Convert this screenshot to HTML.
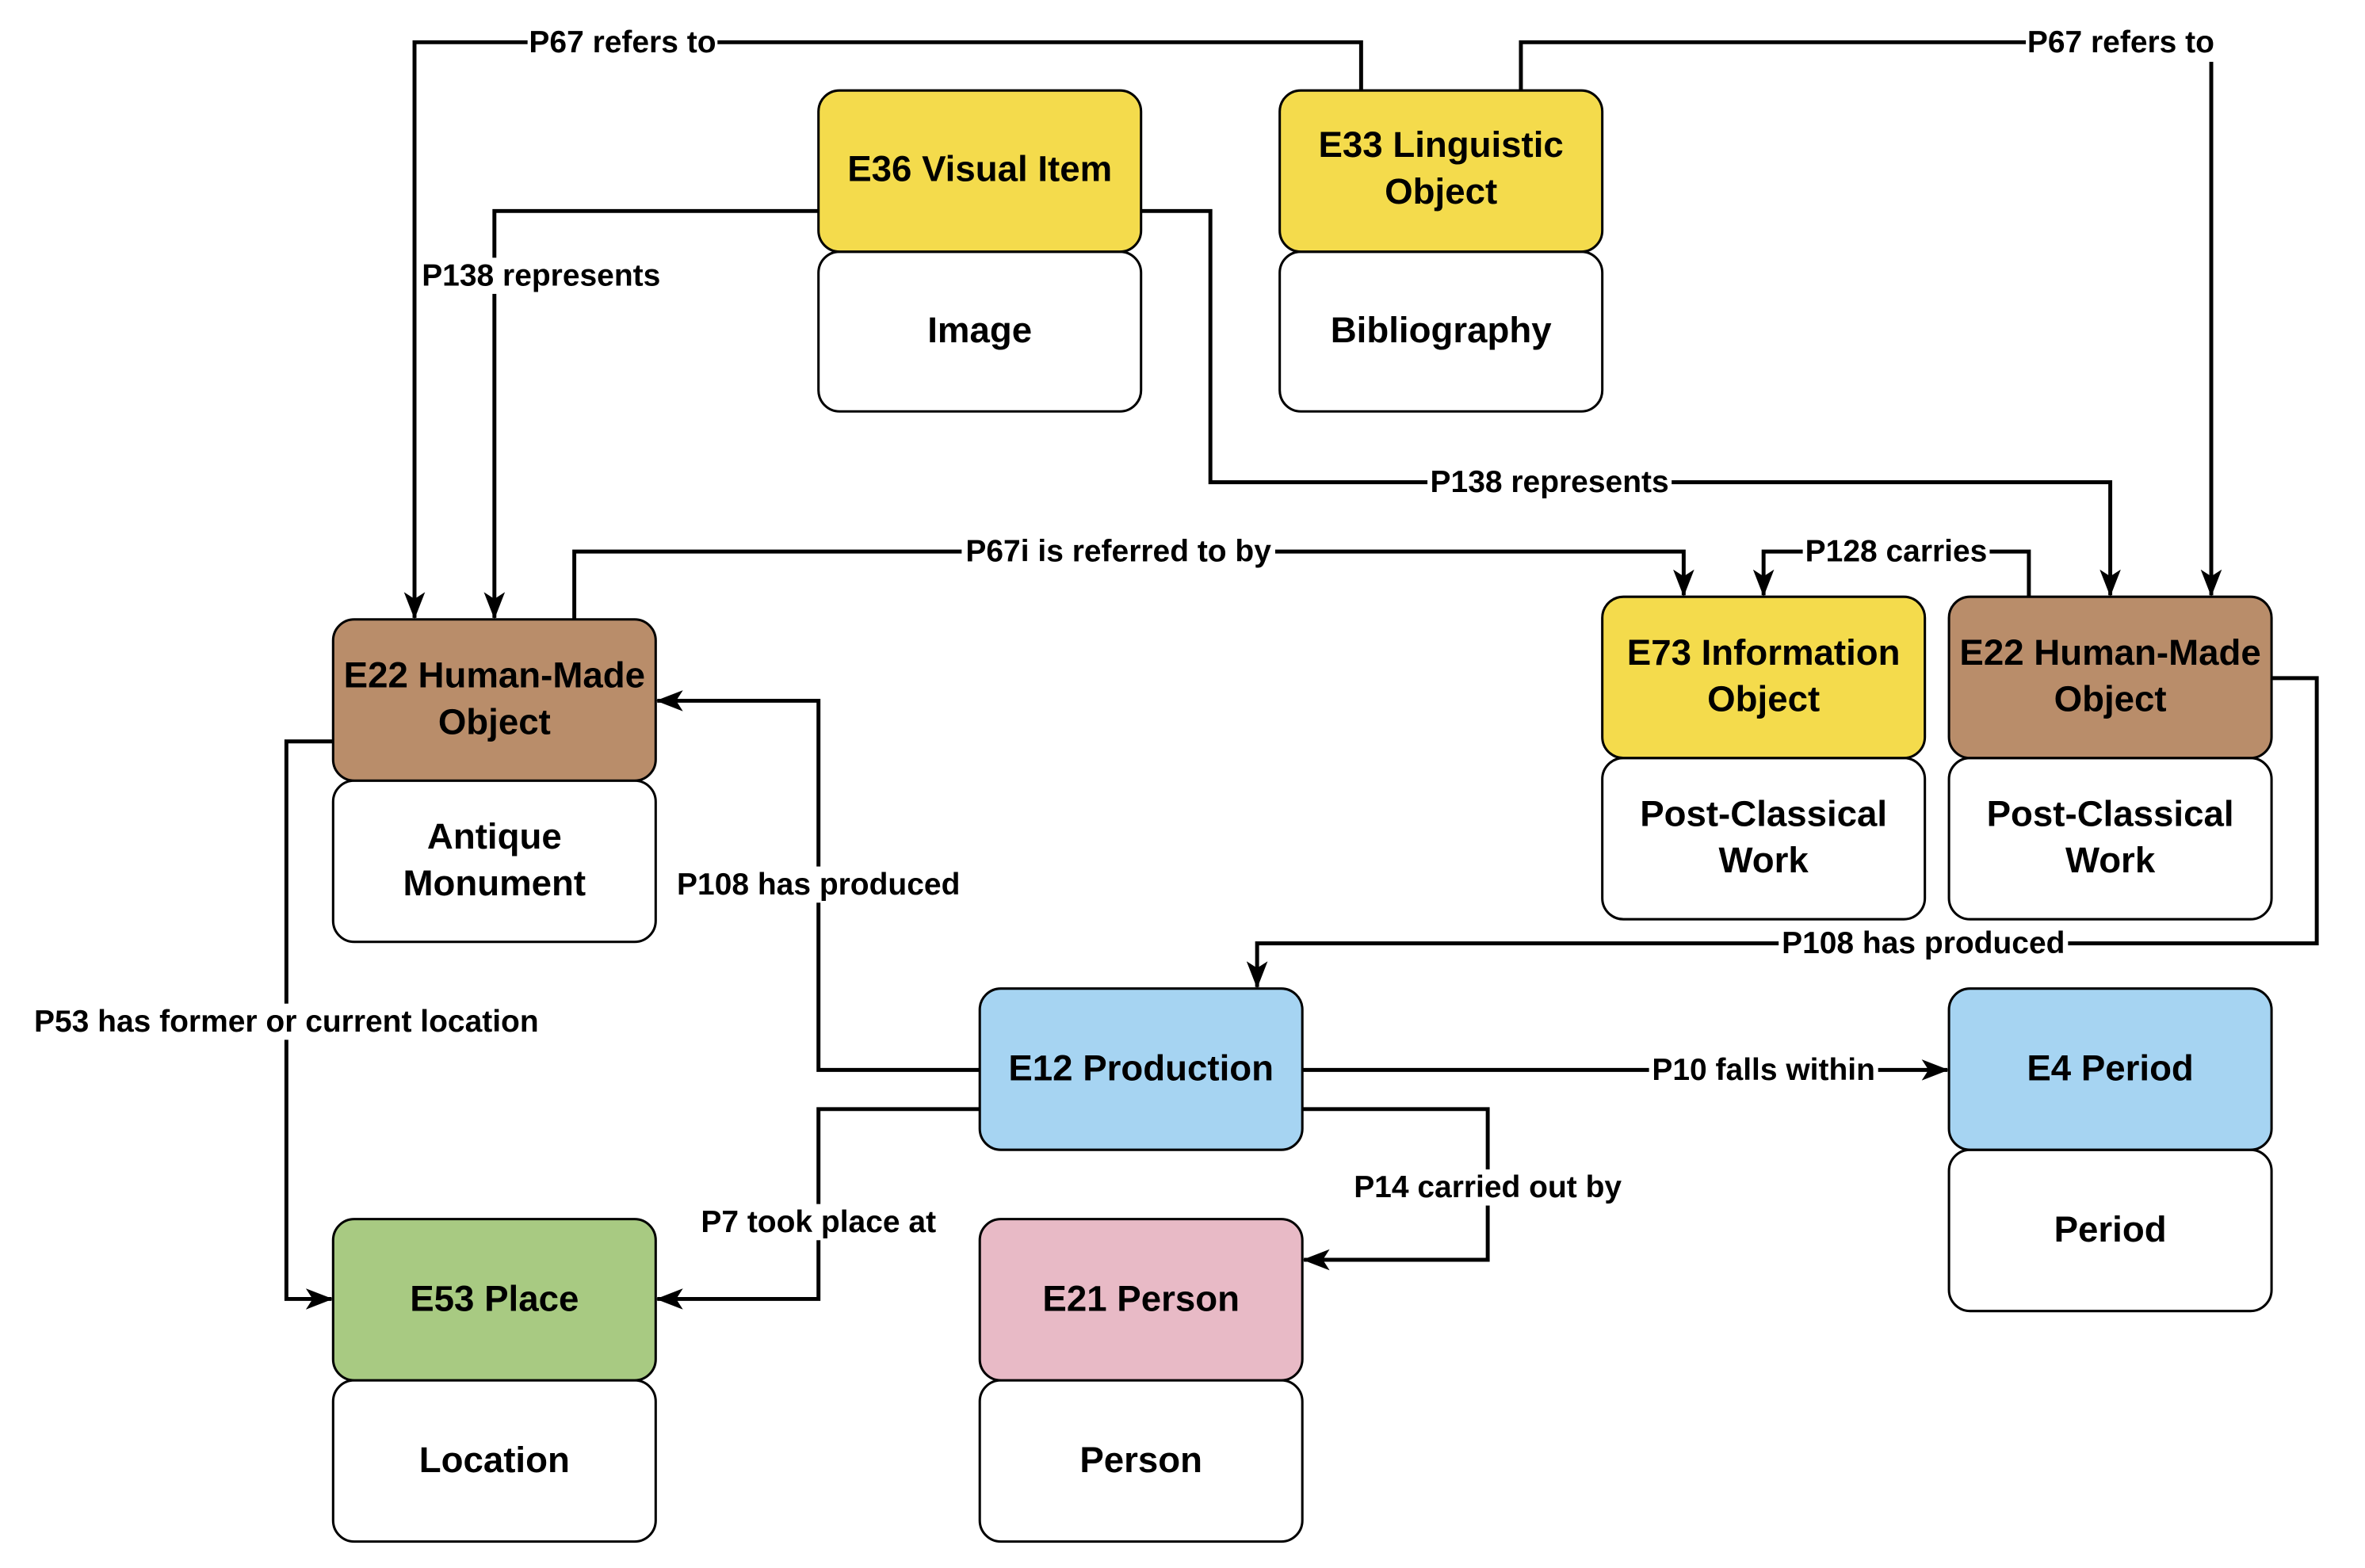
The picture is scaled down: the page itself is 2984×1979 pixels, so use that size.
<!DOCTYPE html>
<html><head><meta charset="utf-8"><style>
html,body{margin:0;padding:0;background:#fff;}
svg{display:block;}
text{font-family:"Liberation Sans",Arial,sans-serif;font-weight:bold;fill:#000;}
.n{font-size:24px;text-anchor:middle;}
.l{font-size:20.5px;text-anchor:middle;dominant-baseline:central;}
.e{fill:none;stroke:#000;stroke-width:2.6;}
.b{fill:#fff;stroke:none;}
</style></head><body>
<svg width="2984" height="1979" viewBox="0 0 1569 1040.5" xmlns="http://www.w3.org/2000/svg">
<defs>
<marker id="a" viewBox="0 0 20 20" refX="19" refY="10" markerWidth="18" markerHeight="14" markerUnits="userSpaceOnUse" orient="auto" preserveAspectRatio="none">
<path d="M0,0 L20,10 L0,20 L5,10 Z" fill="#000"/>
</marker>
</defs>
<g class="e">
<path d="M903,60 V28 H275 V410" marker-end="url(#a)"/>
<path d="M1009,60 V28 H1467 V395" marker-end="url(#a)"/>
<path d="M543,140 H328 V410" marker-end="url(#a)"/>
<path d="M757,140 H803 V320 H1400 V395" marker-end="url(#a)"/>
<path d="M381,411 V366 H1117 V395" marker-end="url(#a)"/>
<path d="M1346,396 V366 H1170 V395" marker-end="url(#a)"/>
<path d="M650,710 H543 V465 H436" marker-end="url(#a)"/>
<path d="M1507,450 H1537 V626 H834 V655" marker-end="url(#a)"/>
<path d="M221,492 H190 V862 H220" marker-end="url(#a)"/>
<path d="M864,710 H1292" marker-end="url(#a)"/>
<path d="M650,736 H543 V862 H436" marker-end="url(#a)"/>
<path d="M864,736 H987 V836 H865" marker-end="url(#a)"/>
</g>
<g stroke="#000" stroke-width="1.6">
<rect x="543" y="167" width="214" height="106" rx="14" fill="#fff"/>
<rect x="543" y="60" width="214" height="107" rx="14" fill="#F4DB4C"/>
<rect x="849" y="167" width="214" height="106" rx="14" fill="#fff"/>
<rect x="849" y="60" width="214" height="107" rx="14" fill="#F4DB4C"/>
<rect x="221" y="518" width="214" height="107" rx="14" fill="#fff"/>
<rect x="221" y="411" width="214" height="107" rx="14" fill="#B98D6A"/>
<rect x="1063" y="503" width="214" height="107" rx="14" fill="#fff"/>
<rect x="1063" y="396" width="214" height="107" rx="14" fill="#F4DB4C"/>
<rect x="1293" y="503" width="214" height="107" rx="14" fill="#fff"/>
<rect x="1293" y="396" width="214" height="107" rx="14" fill="#B98D6A"/>
<rect x="650" y="656" width="214" height="107" rx="14" fill="#A6D4F2"/>
<rect x="1293" y="763" width="214" height="107" rx="14" fill="#fff"/>
<rect x="1293" y="656" width="214" height="107" rx="14" fill="#A6D4F2"/>
<rect x="221" y="916" width="214" height="107" rx="14" fill="#fff"/>
<rect x="221" y="809" width="214" height="107" rx="14" fill="#A8CA82"/>
<rect x="650" y="916" width="214" height="107" rx="14" fill="#fff"/>
<rect x="650" y="809" width="214" height="107" rx="14" fill="#E8BAC6"/>
</g>
<g class="n">
<text x="650" y="120">E36 Visual Item</text>
<text x="650" y="227">Image</text>
<text x="956" y="104">E33 Linguistic</text>
<text x="956" y="135">Object</text>
<text x="956" y="227">Bibliography</text>
<text x="328" y="456">E22 Human-Made</text>
<text x="328" y="487">Object</text>
<text x="328" y="563">Antique</text>
<text x="328" y="594">Monument</text>
<text x="1170" y="441">E73 Information</text>
<text x="1170" y="472">Object</text>
<text x="1170" y="548">Post-Classical</text>
<text x="1170" y="579">Work</text>
<text x="1400" y="441">E22 Human-Made</text>
<text x="1400" y="472">Object</text>
<text x="1400" y="548">Post-Classical</text>
<text x="1400" y="579">Work</text>
<text x="757" y="717">E12 Production</text>
<text x="1400" y="717">E4 Period</text>
<text x="1400" y="824">Period</text>
<text x="328" y="870">E53 Place</text>
<text x="328" y="977">Location</text>
<text x="757" y="870">E21 Person</text>
<text x="757" y="977">Person</text>
</g>
<g class="b">
<rect x="350" y="17" width="126" height="24"/>
<rect x="1344" y="17" width="126" height="24"/>
<rect x="278" y="171" width="162" height="24"/>
<rect x="947" y="308" width="162" height="24"/>
<rect x="638" y="354" width="208" height="24"/>
<rect x="1196" y="354" width="124" height="24"/>
<rect x="447" y="575" width="192" height="24"/>
<rect x="1180" y="614" width="192" height="24"/>
<rect x="20" y="666" width="340" height="24"/>
<rect x="1094" y="698" width="152" height="24"/>
<rect x="463" y="799" width="160" height="24"/>
<rect x="896" y="776" width="182" height="24"/>
</g>
<g class="l">
<text x="413" y="28">P67 refers to</text>
<text x="1407" y="28">P67 refers to</text>
<text x="359" y="183">P138 represents</text>
<text x="1028" y="320">P138 represents</text>
<text x="742" y="366">P67i is referred to by</text>
<text x="1258" y="366">P128 carries</text>
<text x="543" y="587">P108 has produced</text>
<text x="1276" y="626">P108 has produced</text>
<text x="190" y="678">P53 has former or current location</text>
<text x="1170" y="710">P10 falls within</text>
<text x="543" y="811">P7 took place at</text>
<text x="987" y="788">P14 carried out by</text>
</g>
</svg>
</body></html>
